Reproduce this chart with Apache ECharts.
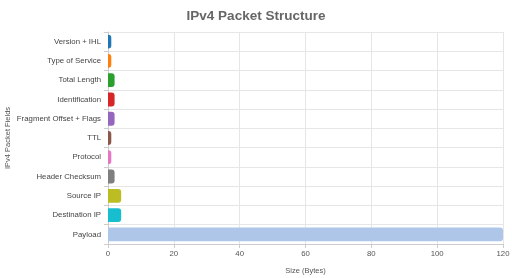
<!DOCTYPE html>
<html><head><meta charset="utf-8">
<script src="https://cdn.jsdelivr.net/npm/echarts@6/dist/echarts.min.js"></script>
<style>html,body{margin:0;padding:0;background:#fff}#c{width:512px;height:278px}</style>
</head><body><div id="c"></div>
<script>
const categories = ["Version + IHL","Type of Service","Total Length","Identification","Fragment Offset + Flags","TTL","Protocol","Header Checksum","Source IP","Destination IP","Payload"];
const sizes = [1,1,2,2,2,1,1,2,4,4,120];
const colors = ["#1f77b4","#ff7f0e","#2ca02c","#d62728","#9467bd","#8c564b","#e377c2","#7f7f7f","#bcbd22","#17becf","#aec7e8"];
const xTicks = [0,20,40,60,80,100,120];

const chart = echarts.init(document.getElementById('c'), null, {renderer:'canvas'});
chart.setOption({
  animation:false,
  title:{text:'IPv4 Packet Structure',left:'center',top:4,textStyle:{fontFamily:'Liberation Sans, Arial',fontSize:13.5,fontWeight:'bold',color:'#666'}},
  grid:{left:108,right:9,top:32,bottom:34,containLabel:false,outerBoundsMode:'none'},
  xAxis:{type:'value',min:xTicks[0],max:xTicks[xTicks.length-1],interval:20,
    name:'Size (Bytes)',nameLocation:'middle',nameGap:23,nameMoveOverlap:false,
    nameTextStyle:{fontSize:7.5,color:'#555',fontFamily:'Liberation Sans, Arial'},
    axisLine:{show:true,lineStyle:{color:'#ccc'}},axisTick:{show:true,length:4,lineStyle:{color:'#ccc'}},
    axisLabel:{fontSize:7.8,color:'#555',margin:6,fontFamily:'Liberation Sans, Arial'},
    splitLine:{lineStyle:{color:'#e6e6e6'}}},
  yAxis:{type:'category',data:categories,inverse:true,
    name:'IPv4 Packet Fields',nameLocation:'middle',nameGap:96,nameRotate:90,nameMoveOverlap:false,
    nameTextStyle:{fontSize:7.5,color:'#555',fontFamily:'Liberation Sans, Arial'},
    axisLine:{show:true,lineStyle:{color:'#ccc'}},axisTick:{show:true,length:4,lineStyle:{color:'#ccc'}},
    axisLabel:{fontSize:7.8,color:'#444',margin:7,fontFamily:'Liberation Sans, Arial'},
    splitLine:{show:true,lineStyle:{color:'#e6e6e6'}}},
  series:[{type:'bar',barWidth:'72%',
    data:sizes.map((v,i)=>({value:v,itemStyle:{color:colors[i],borderRadius:[0,3,3,0]}}))}]
});
</script></body></html>
